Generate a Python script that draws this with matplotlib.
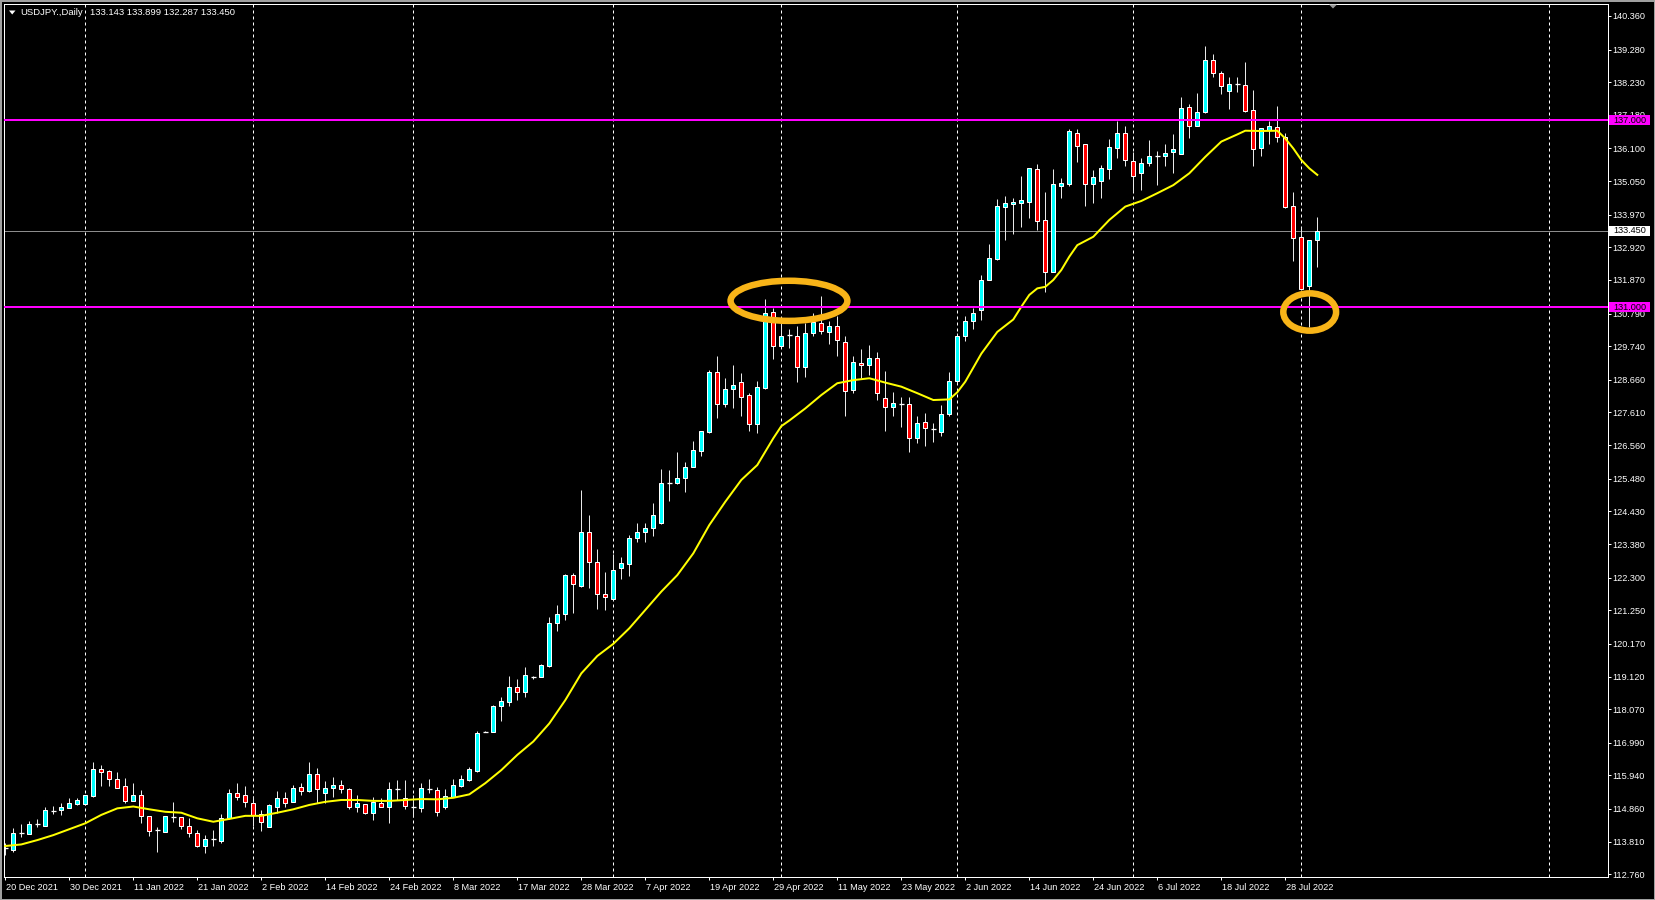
import matplotlib
matplotlib.use("Agg")
import matplotlib.pyplot as plt
import matplotlib.transforms as mtransforms
from matplotlib.patches import Ellipse, Rectangle, Polygon
import numpy as np

# USDJPY daily candles, bar 0 = 20 Dec 2021, bar 164 = 3 Aug 2022
opens = [
    113.60, 113.54, 114.10, 114.05, 114.38, 114.32, 114.81, 114.82, 114.90, 115.01,
    115.02, 115.28, 116.15, 116.08, 115.82, 115.60, 115.13, 115.31, 114.64, 114.18,
    114.13, 114.61, 114.59, 114.31, 114.08, 113.67, 113.89, 113.84, 114.56, 115.36,
    115.30, 115.04, 114.70, 114.29, 114.93, 115.20, 115.07, 115.56, 115.44, 115.97,
    115.36, 115.52, 115.63, 115.49, 114.93, 115.01, 114.72, 115.04, 114.93, 115.51,
    115.20, 114.93, 114.88, 115.49, 115.47, 114.91, 115.26, 115.61, 115.79, 116.09,
    117.35, 117.35, 118.18, 118.31, 118.77, 118.61, 119.09, 119.09, 119.46, 120.83,
    121.12, 122.38, 122.04, 123.76, 122.81, 121.76, 121.61, 122.60, 122.74, 123.58,
    123.76, 123.88, 124.05, 125.35, 125.33, 125.49, 125.85, 126.38, 126.97, 128.90,
    127.87, 128.35, 128.58, 128.17, 127.23, 128.41, 130.83, 129.75, 130.10, 130.08,
    129.06, 130.15, 130.48, 130.19, 130.40, 129.86, 128.33, 129.21, 129.14, 129.37,
    128.06, 127.77, 127.88, 127.87, 126.78, 127.29, 127.08, 126.97, 127.55, 128.62,
    130.08, 130.55, 130.90, 131.87, 132.53, 134.21, 134.30, 134.33, 134.39, 135.43,
    133.79, 132.14, 134.90, 134.95, 136.59, 136.23, 134.95, 135.06, 135.43, 136.10,
    136.59, 135.71, 135.30, 135.64, 135.86, 135.87, 135.97, 135.91, 137.42, 136.83,
    137.26, 138.94, 138.51, 137.96, 138.16, 138.14, 137.34, 136.12, 136.69, 136.80,
    136.48, 134.25, 133.24, 131.69, 133.143,
]
highs = [
    113.76, 114.24, 114.38, 114.47, 114.53, 114.93, 114.96, 115.06, 115.20, 115.22,
    115.31, 116.36, 116.27, 116.12, 116.06, 115.87, 115.71, 115.47, 114.64, 114.29,
    114.63, 115.09, 114.59, 114.56, 114.19, 114.02, 114.19, 114.70, 115.50, 115.69,
    115.60, 115.27, 114.83, 115.01, 115.45, 115.42, 115.63, 115.69, 116.38, 116.17,
    115.77, 115.88, 115.79, 115.55, 115.31, 115.01, 115.24, 115.20, 115.72, 115.79,
    115.79, 115.31, 115.69, 115.82, 115.58, 115.50, 115.82, 115.95, 116.21, 117.37,
    117.37, 118.20, 118.47, 119.14, 119.04, 119.42, 119.15, 119.52, 121.04, 121.42,
    122.41, 122.44, 125.12, 124.31, 123.22, 122.47, 123.06, 122.95, 123.67, 124.05,
    124.05, 124.69, 125.78, 125.76, 126.33, 126.01, 126.69, 127.01, 128.98, 129.42,
    128.71, 129.14, 128.87, 128.23, 128.62, 131.26, 130.98, 130.48, 130.29, 130.39,
    130.48, 130.80, 131.35, 130.55, 130.71, 130.07, 129.44, 129.64, 129.78, 129.54,
    128.94, 128.28, 128.10, 128.10, 127.50, 127.58, 127.26, 127.85, 128.92, 130.15,
    130.70, 130.96, 132.03, 133.03, 134.46, 134.57, 134.49, 135.21, 135.46, 135.59,
    134.69, 135.43, 135.14, 136.71, 136.71, 136.23, 135.41, 135.57, 136.40, 136.98,
    136.82, 135.99, 135.78, 136.37, 136.02, 136.24, 136.55, 137.74, 137.53, 137.87,
    139.39, 139.14, 138.59, 138.39, 138.39, 138.87, 137.98, 136.77, 136.98, 137.46,
    136.59, 134.69, 133.58, 133.16, 133.899,
]
lows = [
    113.38, 113.49, 113.95, 114.05, 114.27, 114.32, 114.70, 114.68, 114.88, 114.99,
    115.00, 115.26, 115.61, 115.61, 115.55, 115.04, 115.13, 114.40, 114.00, 113.49,
    114.13, 114.45, 114.21, 113.97, 113.63, 113.46, 113.68, 113.78, 114.53, 115.15,
    114.93, 114.30, 114.16, 114.29, 114.74, 114.91, 115.07, 115.31, 115.42, 115.06,
    115.04, 115.26, 115.36, 114.85, 114.77, 114.70, 114.49, 114.93, 114.42, 115.15,
    114.86, 114.61, 114.77, 115.36, 114.64, 114.85, 115.26, 115.56, 115.77, 116.06,
    117.32, 117.32, 117.70, 118.18, 118.36, 118.47, 119.04, 119.09, 119.44, 120.59,
    120.94, 121.17, 122.01, 121.98, 121.29, 121.26, 121.58, 122.25, 122.35, 123.43,
    123.46, 123.64, 124.02, 124.76, 125.30, 125.06, 125.85, 126.22, 126.96, 127.44,
    127.80, 127.74, 127.51, 127.02, 126.94, 128.35, 129.32, 129.75, 129.69, 128.60,
    128.76, 130.08, 130.13, 129.81, 129.44, 127.51, 128.22, 128.71, 128.81, 128.01,
    127.02, 127.50, 127.15, 126.35, 126.64, 126.54, 126.67, 126.86, 127.51, 128.55,
    129.90, 130.30, 130.58, 131.87, 132.51, 133.16, 133.35, 133.58, 133.87, 133.48,
    131.49, 132.14, 134.52, 134.90, 135.67, 134.26, 134.33, 134.52, 135.11, 135.78,
    135.55, 134.69, 134.76, 135.53, 134.92, 135.53, 135.32, 135.91, 136.45, 136.83,
    137.23, 138.39, 137.85, 137.37, 137.90, 137.28, 135.55, 135.87, 136.24, 136.32,
    134.19, 132.48, 131.55, 130.37, 132.287,
]
closes = [
    113.60, 114.08, 114.10, 114.37, 114.38, 114.83, 114.81, 114.92, 115.05, 115.15,
    115.31, 116.15, 116.06, 115.83, 115.55, 115.13, 115.31, 114.65, 114.16, 114.18,
    114.63, 114.61, 114.32, 114.08, 113.67, 113.89, 113.89, 114.58, 115.36, 115.23,
    115.07, 114.67, 114.45, 114.99, 115.20, 115.06, 115.52, 115.45, 115.97, 115.49,
    115.52, 115.63, 115.49, 114.93, 115.06, 114.74, 115.10, 114.93, 115.49, 115.51,
    114.97, 114.93, 115.52, 115.49, 114.77, 115.28, 115.62, 115.81, 116.13, 117.29,
    117.35, 118.18, 118.33, 118.77, 118.61, 119.16, 119.09, 119.48, 120.83, 121.13,
    122.38, 122.08, 123.76, 122.81, 121.76, 121.67, 122.54, 122.76, 123.56, 123.76,
    123.88, 124.31, 125.33, 125.35, 125.49, 125.87, 126.40, 127.01, 128.90, 127.87,
    128.35, 128.49, 128.12, 127.23, 128.42, 130.80, 129.76, 130.08, 130.10, 129.06,
    130.15, 130.53, 130.23, 130.40, 129.94, 128.30, 129.24, 129.14, 129.37, 128.22,
    127.77, 127.92, 127.88, 126.78, 127.26, 127.10, 127.08, 127.55, 128.62, 130.08,
    130.55, 130.80, 131.87, 132.57, 134.25, 134.33, 134.37, 134.44, 135.46, 133.78,
    132.14, 134.95, 134.98, 136.66, 136.19, 134.95, 135.17, 135.46, 136.14, 136.59,
    135.73, 135.22, 135.62, 135.86, 135.86, 135.94, 136.07, 137.39, 136.83, 137.26,
    138.94, 138.51, 138.12, 138.17, 138.16, 137.31, 136.07, 136.77, 136.82, 136.48,
    134.23, 133.21, 131.57, 133.16, 133.450,
]

# yellow moving average, read at these bar positions
ma_idx = [0, 2, 4, 6, 8, 10, 12, 14, 16, 18, 20, 22, 24, 26, 28, 30, 32, 34, 36, 38,
          40, 42, 44, 46, 48, 50, 52, 54, 56, 58, 60, 62, 64, 66, 68, 70, 72, 74, 76, 78,
          80, 82, 84, 86, 88, 90, 92, 94, 96, 97, 98, 100, 102, 104, 106, 108, 110, 112,
          114, 116, 118, 119, 120, 122, 124, 126, 127, 128, 129, 130, 131, 132, 133, 134,
          136, 138, 140, 142, 144, 146, 148, 150, 152, 154, 155, 157, 159, 160, 161, 162,
          163, 164]
ma_val = [113.67, 113.72, 113.86, 114.02, 114.21, 114.40, 114.67, 114.88, 114.94, 114.85,
          114.77, 114.74, 114.56, 114.45, 114.54, 114.64, 114.64, 114.74, 114.85, 114.99,
          115.09, 115.15, 115.15, 115.12, 115.12, 115.15, 115.18, 115.17, 115.22, 115.33,
          115.69, 116.11, 116.60, 117.03, 117.61, 118.36, 119.22, 119.78, 120.17, 120.67,
          121.26, 121.85, 122.38, 123.08, 123.99, 124.74, 125.44, 125.92, 126.78, 127.17,
          127.35, 127.74, 128.17, 128.55, 128.65, 128.71, 128.57, 128.44, 128.23, 128.01,
          128.03, 128.26, 128.60, 129.50, 130.20, 130.60, 131.01, 131.39, 131.60, 131.65,
          131.87, 132.19, 132.62, 132.99, 133.26, 133.80, 134.23, 134.41, 134.66, 134.92,
          135.30, 135.83, 136.32, 136.55, 136.67, 136.66, 136.67, 136.42, 136.10, 135.73,
          135.46, 135.25]

date_idx = list(range(0, 161, 8))
date_labels = ["20 Dec 2021", "30 Dec 2021", "11 Jan 2022", "21 Jan 2022", "2 Feb 2022",
               "14 Feb 2022", "24 Feb 2022", "8 Mar 2022", "17 Mar 2022", "28 Mar 2022",
               "7 Apr 2022", "19 Apr 2022", "29 Apr 2022", "11 May 2022", "23 May 2022",
               "2 Jun 2022", "14 Jun 2022", "24 Jun 2022", "6 Jul 2022", "18 Jul 2022",
               "28 Jul 2022"]
grid_idx = [10, 31, 51, 76, 97, 119, 141, 162, 193]   # month starts
price_ticks = [140.360, 139.280, 138.230, 137.180, 136.100, 135.050, 133.970, 132.920,
               131.870, 130.790, 129.740, 128.660, 127.610, 126.560, 125.480, 124.430,
               123.380, 122.300, 121.250, 120.170, 119.120, 118.070, 116.990, 115.940,
               114.860, 113.810, 112.760]
levels = [137.0, 131.0]
last_price = 133.450
# (bar centre, price centre, width in bars, height in price)
circles = [(97.96, 131.20, 14.6, 1.29), (163.05, 130.84, 6.6, 1.20)]

plt.rcParams['font.family'] = ['Liberation Sans', 'DejaVu Sans']

W, H = 1655, 900
fx = lambda px: px / W
fy = lambda py: 1 - py / H
PX = 0.72  # one pixel in points at dpi 100

fig = plt.figure(figsize=(W / 100, H / 100), dpi=100, facecolor='black')
fig.patches.append(Rectangle((0, 0), 1, 1, transform=fig.transFigure, fill=False,
                             edgecolor='#a0a0a0', linewidth=3 * PX))

left, right, top, bottom = 3.5, 1607.7, 4.0, 876.7
ax = fig.add_axes([fx(left), fy(bottom), (right - left) / W, (bottom - top) / H])
ax.set_facecolor('black')
ax.set_xlim((left - 5.3) / 8, (right - 5.3) / 8)
ax.set_ylim(112.76 - (bottom - 874.3) / 31.1, 112.76 + (874.3 - top) / 31.1)
for s in ax.spines.values():
    s.set_color('white')
    s.set_linewidth(PX)

o = np.array(opens); h = np.array(highs); l = np.array(lows); c = np.array(closes)
x = np.arange(len(o))

# grid and price lines
for g in grid_idx:
    ax.axvline(g, color='white', lw=PX, ls=(0, (3, 3)), zorder=1)
ax.axhline(last_price, color='#8c8c8c', lw=PX, zorder=1.5)

# candles
ax.vlines(x, l, h, color='#e8e8e8', lw=PX, zorder=2)
up = c > o
dn = c < o
flat = c == o
ax.bar(x[up], (c - o)[up], bottom=o[up], width=0.5, color='#00ffff',
       edgecolor='white', linewidth=PX, zorder=3)
ax.bar(x[dn], (c - o)[dn], bottom=o[dn], width=0.5, color='#ff0000',
       edgecolor='white', linewidth=PX, zorder=3)
ax.hlines(c[flat], x[flat] - 0.32, x[flat] + 0.32, color='white', lw=PX * 1.3, zorder=3)

ax.plot(ma_idx, ma_val, color='#ffff00', lw=2 * PX, zorder=4)

for lv in levels:
    ax.axhline(lv, color='#ff00ff', lw=2 * PX, zorder=5)

for cx, cy, cw, ch in circles:
    ax.add_patch(Ellipse((cx, cy), cw, ch, fill=False, edgecolor='#f8b418',
                         lw=6.5 * PX, zorder=6))

# right price axis
ax.yaxis.tick_right()
ax.set_yticks(price_ticks)
ax.set_yticklabels([f"{v:.3f}" for v in price_ticks])
ax.tick_params(axis='y', colors='white', length=3 * PX, width=PX, pad=1.2,
               labelsize=6.6)

# bottom time axis
ax.set_xticks(date_idx)
ax.tick_params(axis='x', colors='white', length=3 * PX, width=PX, labelbottom=False)
xt = ax.get_xaxis_transform()
for i, lbl in zip(date_idx, date_labels):
    ax.text(i + 0.15, -10.3 / (bottom - top), lbl, transform=xt, color='white',
            fontsize=6.6, ha='left', va='center', clip_on=False)

# price boxes on the axis
bt = mtransforms.blended_transform_factory(ax.transAxes, ax.transData)
x0 = (1609 - left) / (right - left)
bw = 41 / (right - left)
bh = 10 / 31.1
tx = (1613 - left) / (right - left)
for p, face in [(levels[0], '#ff00ff'), (levels[1], '#ff00ff'), (last_price, 'white')]:
    ax.add_patch(Rectangle((x0, p - bh / 2), bw, bh, transform=bt, facecolor=face,
                           edgecolor='none', clip_on=False, zorder=20))
    ax.text(tx, p, f"{p:.3f}", transform=bt, color='black', fontsize=6.6,
            ha='left', va='center', clip_on=False, zorder=21)

# header
fig.patches.append(Polygon([(fx(9), fy(10.5)), (fx(15.5), fy(10.5)), (fx(12.2), fy(14.5))],
                           closed=True, transform=fig.transFigure, facecolor='white',
                           edgecolor='none'))
fig.text(fx(20), fy(12.7), "USDJPY.,Daily", color='white', fontsize=6.8,
         ha='left', va='center')
fig.text(fx(90.5), fy(12.7), "133.143 133.899 132.287 133.450", color='white',
         fontsize=6.8, ha='left', va='center')
# chart shift marker
fig.patches.append(Polygon([(fx(1329), fy(4.5)), (fx(1337), fy(4.5)), (fx(1333), fy(8.5))],
                           closed=True, transform=fig.transFigure, facecolor='#9a9a9a',
                           edgecolor='none'))

fig.savefig('out.png', dpi=100, facecolor='black')
